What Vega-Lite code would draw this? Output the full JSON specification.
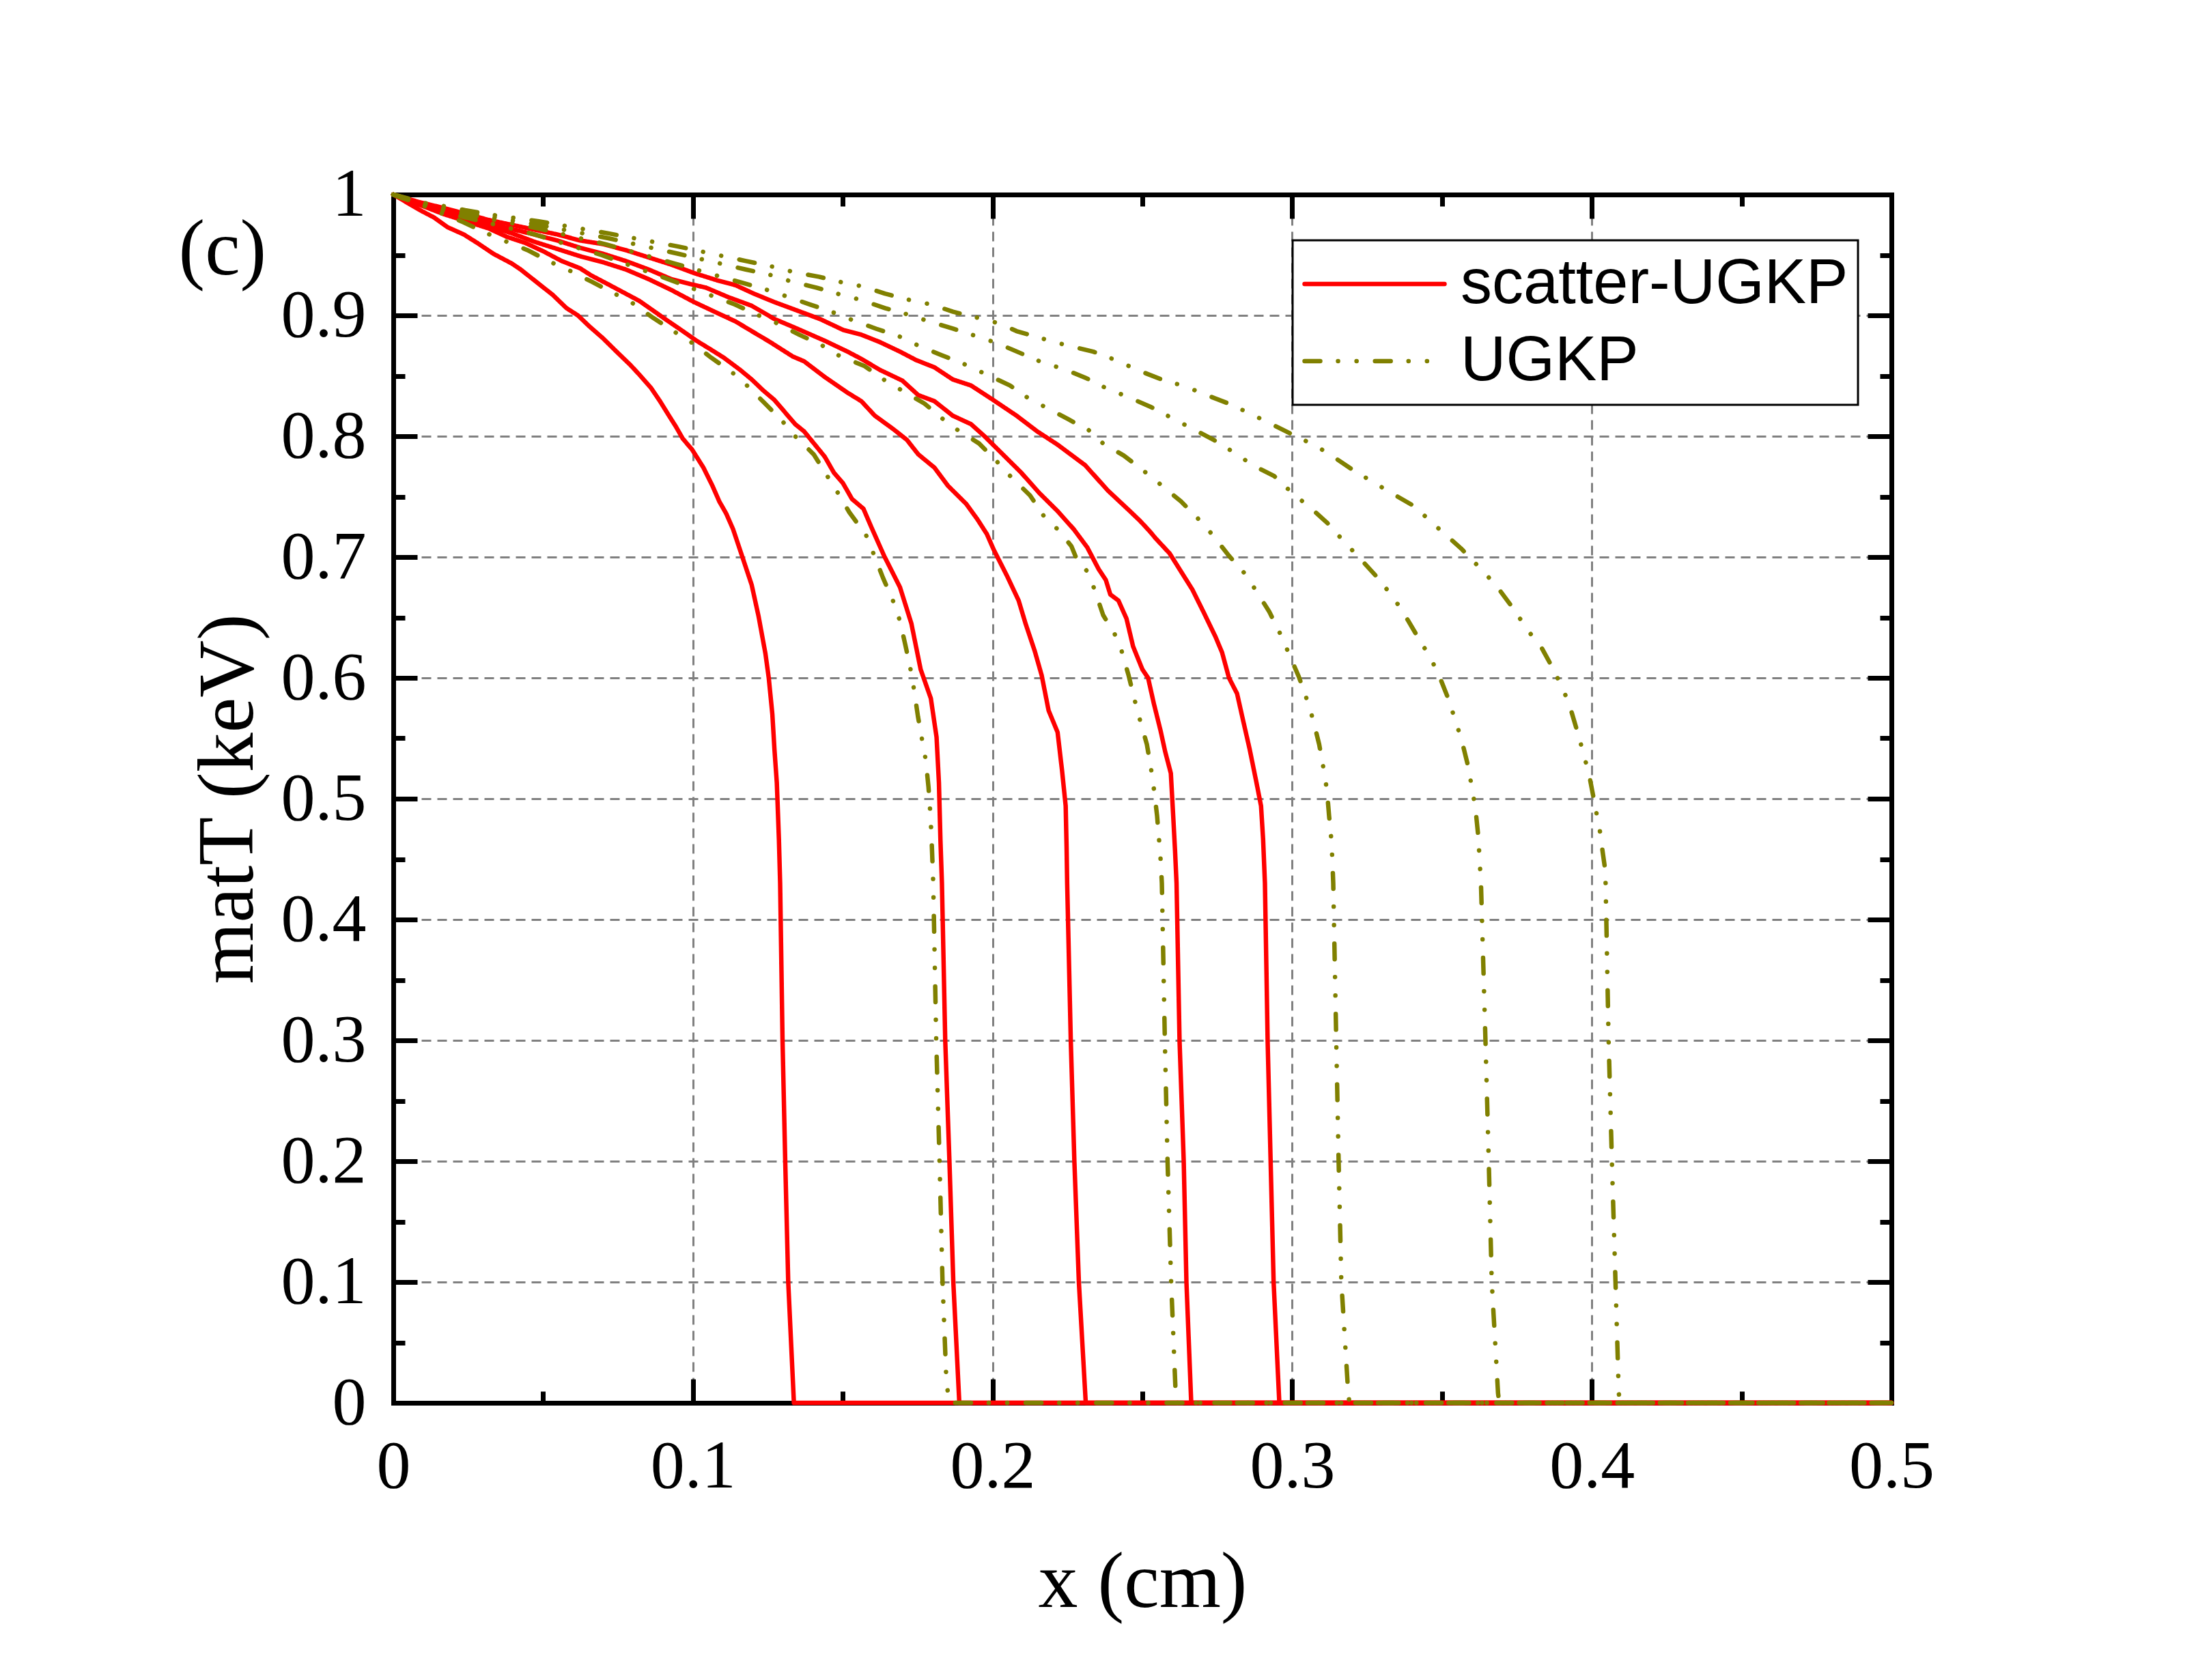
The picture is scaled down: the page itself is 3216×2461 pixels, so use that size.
{
  "$schema": "https://vega.github.io/schema/vega-lite/v6.json",
  "width": 2194,
  "height": 1770,
  "autosize": "none",
  "padding": {"left": 576, "top": 285, "right": 446, "bottom": 406},
  "background": "white",
  "datasets": {
    "curves": [
      {"curve": "S1", "method": "scatter-UGKP", "x": 0, "y": 1},
      {"curve": "S1", "method": "scatter-UGKP", "x": 0.009, "y": 0.987},
      {"curve": "S1", "method": "scatter-UGKP", "x": 0.0136, "y": 0.981},
      {"curve": "S1", "method": "scatter-UGKP", "x": 0.0181, "y": 0.973},
      {"curve": "S1", "method": "scatter-UGKP", "x": 0.0235, "y": 0.967},
      {"curve": "S1", "method": "scatter-UGKP", "x": 0.028, "y": 0.96},
      {"curve": "S1", "method": "scatter-UGKP", "x": 0.0334, "y": 0.951},
      {"curve": "S1", "method": "scatter-UGKP", "x": 0.0395, "y": 0.943},
      {"curve": "S1", "method": "scatter-UGKP", "x": 0.0425, "y": 0.938},
      {"curve": "S1", "method": "scatter-UGKP", "x": 0.0486, "y": 0.926},
      {"curve": "S1", "method": "scatter-UGKP", "x": 0.0532, "y": 0.917},
      {"curve": "S1", "method": "scatter-UGKP", "x": 0.0578, "y": 0.906},
      {"curve": "S1", "method": "scatter-UGKP", "x": 0.0616, "y": 0.9},
      {"curve": "S1", "method": "scatter-UGKP", "x": 0.0654, "y": 0.891},
      {"curve": "S1", "method": "scatter-UGKP", "x": 0.07, "y": 0.881},
      {"curve": "S1", "method": "scatter-UGKP", "x": 0.0745, "y": 0.87},
      {"curve": "S1", "method": "scatter-UGKP", "x": 0.0791, "y": 0.859},
      {"curve": "S1", "method": "scatter-UGKP", "x": 0.0821, "y": 0.851},
      {"curve": "S1", "method": "scatter-UGKP", "x": 0.086, "y": 0.84},
      {"curve": "S1", "method": "scatter-UGKP", "x": 0.089, "y": 0.829},
      {"curve": "S1", "method": "scatter-UGKP", "x": 0.092, "y": 0.817},
      {"curve": "S1", "method": "scatter-UGKP", "x": 0.0943, "y": 0.808},
      {"curve": "S1", "method": "scatter-UGKP", "x": 0.0966, "y": 0.798},
      {"curve": "S1", "method": "scatter-UGKP", "x": 0.0997, "y": 0.789},
      {"curve": "S1", "method": "scatter-UGKP", "x": 0.1035, "y": 0.774},
      {"curve": "S1", "method": "scatter-UGKP", "x": 0.1065, "y": 0.759},
      {"curve": "S1", "method": "scatter-UGKP", "x": 0.1088, "y": 0.746},
      {"curve": "S1", "method": "scatter-UGKP", "x": 0.1111, "y": 0.736},
      {"curve": "S1", "method": "scatter-UGKP", "x": 0.1134, "y": 0.723},
      {"curve": "S1", "method": "scatter-UGKP", "x": 0.1157, "y": 0.706},
      {"curve": "S1", "method": "scatter-UGKP", "x": 0.1196, "y": 0.677},
      {"curve": "S1", "method": "scatter-UGKP", "x": 0.1219, "y": 0.651},
      {"curve": "S1", "method": "scatter-UGKP", "x": 0.1242, "y": 0.62},
      {"curve": "S1", "method": "scatter-UGKP", "x": 0.1253, "y": 0.6},
      {"curve": "S1", "method": "scatter-UGKP", "x": 0.1265, "y": 0.57},
      {"curve": "S1", "method": "scatter-UGKP", "x": 0.1272, "y": 0.541},
      {"curve": "S1", "method": "scatter-UGKP", "x": 0.128, "y": 0.513},
      {"curve": "S1", "method": "scatter-UGKP", "x": 0.1287, "y": 0.466},
      {"curve": "S1", "method": "scatter-UGKP", "x": 0.1291, "y": 0.43},
      {"curve": "S1", "method": "scatter-UGKP", "x": 0.1299, "y": 0.3},
      {"curve": "S1", "method": "scatter-UGKP", "x": 0.1308, "y": 0.2},
      {"curve": "S1", "method": "scatter-UGKP", "x": 0.1318, "y": 0.1},
      {"curve": "S1", "method": "scatter-UGKP", "x": 0.1337, "y": 0},
      {"curve": "S1", "method": "scatter-UGKP", "x": 0.5, "y": 0},

      {"curve": "S2", "method": "scatter-UGKP", "x": 0, "y": 1},
      {"curve": "S2", "method": "scatter-UGKP", "x": 0.0083, "y": 0.992},
      {"curve": "S2", "method": "scatter-UGKP", "x": 0.0166, "y": 0.984},
      {"curve": "S2", "method": "scatter-UGKP", "x": 0.0242, "y": 0.978},
      {"curve": "S2", "method": "scatter-UGKP", "x": 0.0318, "y": 0.972},
      {"curve": "S2", "method": "scatter-UGKP", "x": 0.0379, "y": 0.965},
      {"curve": "S2", "method": "scatter-UGKP", "x": 0.044, "y": 0.96},
      {"curve": "S2", "method": "scatter-UGKP", "x": 0.0501, "y": 0.953},
      {"curve": "S2", "method": "scatter-UGKP", "x": 0.0562, "y": 0.945},
      {"curve": "S2", "method": "scatter-UGKP", "x": 0.0623, "y": 0.939},
      {"curve": "S2", "method": "scatter-UGKP", "x": 0.0661, "y": 0.933},
      {"curve": "S2", "method": "scatter-UGKP", "x": 0.0715, "y": 0.926},
      {"curve": "S2", "method": "scatter-UGKP", "x": 0.0768, "y": 0.919},
      {"curve": "S2", "method": "scatter-UGKP", "x": 0.0821, "y": 0.912},
      {"curve": "S2", "method": "scatter-UGKP", "x": 0.0867, "y": 0.904},
      {"curve": "S2", "method": "scatter-UGKP", "x": 0.0913, "y": 0.896},
      {"curve": "S2", "method": "scatter-UGKP", "x": 0.0966, "y": 0.887},
      {"curve": "S2", "method": "scatter-UGKP", "x": 0.1012, "y": 0.879},
      {"curve": "S2", "method": "scatter-UGKP", "x": 0.1058, "y": 0.872},
      {"curve": "S2", "method": "scatter-UGKP", "x": 0.1103, "y": 0.865},
      {"curve": "S2", "method": "scatter-UGKP", "x": 0.1157, "y": 0.855},
      {"curve": "S2", "method": "scatter-UGKP", "x": 0.1196, "y": 0.847},
      {"curve": "S2", "method": "scatter-UGKP", "x": 0.1234, "y": 0.838},
      {"curve": "S2", "method": "scatter-UGKP", "x": 0.1272, "y": 0.83},
      {"curve": "S2", "method": "scatter-UGKP", "x": 0.131, "y": 0.819},
      {"curve": "S2", "method": "scatter-UGKP", "x": 0.1341, "y": 0.81},
      {"curve": "S2", "method": "scatter-UGKP", "x": 0.1371, "y": 0.804},
      {"curve": "S2", "method": "scatter-UGKP", "x": 0.1394, "y": 0.797},
      {"curve": "S2", "method": "scatter-UGKP", "x": 0.144, "y": 0.783},
      {"curve": "S2", "method": "scatter-UGKP", "x": 0.147, "y": 0.77},
      {"curve": "S2", "method": "scatter-UGKP", "x": 0.1501, "y": 0.761},
      {"curve": "S2", "method": "scatter-UGKP", "x": 0.1531, "y": 0.748},
      {"curve": "S2", "method": "scatter-UGKP", "x": 0.1569, "y": 0.74},
      {"curve": "S2", "method": "scatter-UGKP", "x": 0.1595, "y": 0.725},
      {"curve": "S2", "method": "scatter-UGKP", "x": 0.1638, "y": 0.701},
      {"curve": "S2", "method": "scatter-UGKP", "x": 0.1691, "y": 0.675},
      {"curve": "S2", "method": "scatter-UGKP", "x": 0.1729, "y": 0.645},
      {"curve": "S2", "method": "scatter-UGKP", "x": 0.176, "y": 0.607},
      {"curve": "S2", "method": "scatter-UGKP", "x": 0.1794, "y": 0.583},
      {"curve": "S2", "method": "scatter-UGKP", "x": 0.1813, "y": 0.551},
      {"curve": "S2", "method": "scatter-UGKP", "x": 0.1821, "y": 0.513},
      {"curve": "S2", "method": "scatter-UGKP", "x": 0.1826, "y": 0.466},
      {"curve": "S2", "method": "scatter-UGKP", "x": 0.1831, "y": 0.43},
      {"curve": "S2", "method": "scatter-UGKP", "x": 0.1842, "y": 0.3},
      {"curve": "S2", "method": "scatter-UGKP", "x": 0.1856, "y": 0.2},
      {"curve": "S2", "method": "scatter-UGKP", "x": 0.1869, "y": 0.1},
      {"curve": "S2", "method": "scatter-UGKP", "x": 0.1889, "y": 0},
      {"curve": "S2", "method": "scatter-UGKP", "x": 0.5, "y": 0},

      {"curve": "S3", "method": "scatter-UGKP", "x": 0, "y": 1},
      {"curve": "S3", "method": "scatter-UGKP", "x": 0.0083, "y": 0.992},
      {"curve": "S3", "method": "scatter-UGKP", "x": 0.0166, "y": 0.985},
      {"curve": "S3", "method": "scatter-UGKP", "x": 0.0318, "y": 0.974},
      {"curve": "S3", "method": "scatter-UGKP", "x": 0.0395, "y": 0.968},
      {"curve": "S3", "method": "scatter-UGKP", "x": 0.047, "y": 0.961},
      {"curve": "S3", "method": "scatter-UGKP", "x": 0.0547, "y": 0.955},
      {"curve": "S3", "method": "scatter-UGKP", "x": 0.0623, "y": 0.949},
      {"curve": "S3", "method": "scatter-UGKP", "x": 0.07, "y": 0.944},
      {"curve": "S3", "method": "scatter-UGKP", "x": 0.0776, "y": 0.938},
      {"curve": "S3", "method": "scatter-UGKP", "x": 0.0852, "y": 0.93},
      {"curve": "S3", "method": "scatter-UGKP", "x": 0.0928, "y": 0.921},
      {"curve": "S3", "method": "scatter-UGKP", "x": 0.1004, "y": 0.911},
      {"curve": "S3", "method": "scatter-UGKP", "x": 0.1081, "y": 0.902},
      {"curve": "S3", "method": "scatter-UGKP", "x": 0.1142, "y": 0.895},
      {"curve": "S3", "method": "scatter-UGKP", "x": 0.1196, "y": 0.887},
      {"curve": "S3", "method": "scatter-UGKP", "x": 0.1257, "y": 0.878},
      {"curve": "S3", "method": "scatter-UGKP", "x": 0.1333, "y": 0.866},
      {"curve": "S3", "method": "scatter-UGKP", "x": 0.1371, "y": 0.862},
      {"curve": "S3", "method": "scatter-UGKP", "x": 0.144, "y": 0.849},
      {"curve": "S3", "method": "scatter-UGKP", "x": 0.1516, "y": 0.836},
      {"curve": "S3", "method": "scatter-UGKP", "x": 0.1562, "y": 0.829},
      {"curve": "S3", "method": "scatter-UGKP", "x": 0.1607, "y": 0.817},
      {"curve": "S3", "method": "scatter-UGKP", "x": 0.1668, "y": 0.806},
      {"curve": "S3", "method": "scatter-UGKP", "x": 0.1714, "y": 0.797},
      {"curve": "S3", "method": "scatter-UGKP", "x": 0.1752, "y": 0.785},
      {"curve": "S3", "method": "scatter-UGKP", "x": 0.1806, "y": 0.774},
      {"curve": "S3", "method": "scatter-UGKP", "x": 0.1851, "y": 0.759},
      {"curve": "S3", "method": "scatter-UGKP", "x": 0.1912, "y": 0.744},
      {"curve": "S3", "method": "scatter-UGKP", "x": 0.195, "y": 0.731},
      {"curve": "S3", "method": "scatter-UGKP", "x": 0.1981, "y": 0.719},
      {"curve": "S3", "method": "scatter-UGKP", "x": 0.2004, "y": 0.706},
      {"curve": "S3", "method": "scatter-UGKP", "x": 0.2049, "y": 0.684},
      {"curve": "S3", "method": "scatter-UGKP", "x": 0.2087, "y": 0.664},
      {"curve": "S3", "method": "scatter-UGKP", "x": 0.211, "y": 0.645},
      {"curve": "S3", "method": "scatter-UGKP", "x": 0.2141, "y": 0.622},
      {"curve": "S3", "method": "scatter-UGKP", "x": 0.2164, "y": 0.602},
      {"curve": "S3", "method": "scatter-UGKP", "x": 0.2187, "y": 0.573},
      {"curve": "S3", "method": "scatter-UGKP", "x": 0.2217, "y": 0.555},
      {"curve": "S3", "method": "scatter-UGKP", "x": 0.2232, "y": 0.523},
      {"curve": "S3", "method": "scatter-UGKP", "x": 0.2244, "y": 0.494},
      {"curve": "S3", "method": "scatter-UGKP", "x": 0.2247, "y": 0.46},
      {"curve": "S3", "method": "scatter-UGKP", "x": 0.2249, "y": 0.43},
      {"curve": "S3", "method": "scatter-UGKP", "x": 0.2261, "y": 0.3},
      {"curve": "S3", "method": "scatter-UGKP", "x": 0.2273, "y": 0.2},
      {"curve": "S3", "method": "scatter-UGKP", "x": 0.2288, "y": 0.1},
      {"curve": "S3", "method": "scatter-UGKP", "x": 0.2311, "y": 0},
      {"curve": "S3", "method": "scatter-UGKP", "x": 0.5, "y": 0},

      {"curve": "S4", "method": "scatter-UGKP", "x": 0, "y": 1},
      {"curve": "S4", "method": "scatter-UGKP", "x": 0.0083, "y": 0.993},
      {"curve": "S4", "method": "scatter-UGKP", "x": 0.0166, "y": 0.987},
      {"curve": "S4", "method": "scatter-UGKP", "x": 0.0318, "y": 0.976},
      {"curve": "S4", "method": "scatter-UGKP", "x": 0.047, "y": 0.967},
      {"curve": "S4", "method": "scatter-UGKP", "x": 0.0547, "y": 0.962},
      {"curve": "S4", "method": "scatter-UGKP", "x": 0.0623, "y": 0.956},
      {"curve": "S4", "method": "scatter-UGKP", "x": 0.07, "y": 0.951},
      {"curve": "S4", "method": "scatter-UGKP", "x": 0.0776, "y": 0.945},
      {"curve": "S4", "method": "scatter-UGKP", "x": 0.0852, "y": 0.938},
      {"curve": "S4", "method": "scatter-UGKP", "x": 0.0928, "y": 0.93},
      {"curve": "S4", "method": "scatter-UGKP", "x": 0.099, "y": 0.926},
      {"curve": "S4", "method": "scatter-UGKP", "x": 0.1043, "y": 0.923},
      {"curve": "S4", "method": "scatter-UGKP", "x": 0.1119, "y": 0.915},
      {"curve": "S4", "method": "scatter-UGKP", "x": 0.1196, "y": 0.908},
      {"curve": "S4", "method": "scatter-UGKP", "x": 0.1272, "y": 0.897},
      {"curve": "S4", "method": "scatter-UGKP", "x": 0.1348, "y": 0.889},
      {"curve": "S4", "method": "scatter-UGKP", "x": 0.144, "y": 0.879},
      {"curve": "S4", "method": "scatter-UGKP", "x": 0.1516, "y": 0.87},
      {"curve": "S4", "method": "scatter-UGKP", "x": 0.1562, "y": 0.864},
      {"curve": "S4", "method": "scatter-UGKP", "x": 0.1623, "y": 0.855},
      {"curve": "S4", "method": "scatter-UGKP", "x": 0.1699, "y": 0.846},
      {"curve": "S4", "method": "scatter-UGKP", "x": 0.1752, "y": 0.834},
      {"curve": "S4", "method": "scatter-UGKP", "x": 0.1806, "y": 0.829},
      {"curve": "S4", "method": "scatter-UGKP", "x": 0.1867, "y": 0.817},
      {"curve": "S4", "method": "scatter-UGKP", "x": 0.1928, "y": 0.81},
      {"curve": "S4", "method": "scatter-UGKP", "x": 0.1973, "y": 0.8},
      {"curve": "S4", "method": "scatter-UGKP", "x": 0.2034, "y": 0.785},
      {"curve": "S4", "method": "scatter-UGKP", "x": 0.2095, "y": 0.77},
      {"curve": "S4", "method": "scatter-UGKP", "x": 0.2156, "y": 0.753},
      {"curve": "S4", "method": "scatter-UGKP", "x": 0.2217, "y": 0.738},
      {"curve": "S4", "method": "scatter-UGKP", "x": 0.2271, "y": 0.723},
      {"curve": "S4", "method": "scatter-UGKP", "x": 0.2316, "y": 0.708},
      {"curve": "S4", "method": "scatter-UGKP", "x": 0.2354, "y": 0.69},
      {"curve": "S4", "method": "scatter-UGKP", "x": 0.2378, "y": 0.681},
      {"curve": "S4", "method": "scatter-UGKP", "x": 0.2393, "y": 0.669},
      {"curve": "S4", "method": "scatter-UGKP", "x": 0.242, "y": 0.664},
      {"curve": "S4", "method": "scatter-UGKP", "x": 0.2447, "y": 0.649},
      {"curve": "S4", "method": "scatter-UGKP", "x": 0.2469, "y": 0.626},
      {"curve": "S4", "method": "scatter-UGKP", "x": 0.25, "y": 0.607},
      {"curve": "S4", "method": "scatter-UGKP", "x": 0.2519, "y": 0.6},
      {"curve": "S4", "method": "scatter-UGKP", "x": 0.2538, "y": 0.579},
      {"curve": "S4", "method": "scatter-UGKP", "x": 0.2561, "y": 0.556},
      {"curve": "S4", "method": "scatter-UGKP", "x": 0.2576, "y": 0.539},
      {"curve": "S4", "method": "scatter-UGKP", "x": 0.2595, "y": 0.521},
      {"curve": "S4", "method": "scatter-UGKP", "x": 0.2603, "y": 0.485},
      {"curve": "S4", "method": "scatter-UGKP", "x": 0.2609, "y": 0.457},
      {"curve": "S4", "method": "scatter-UGKP", "x": 0.2614, "y": 0.43},
      {"curve": "S4", "method": "scatter-UGKP", "x": 0.2624, "y": 0.3},
      {"curve": "S4", "method": "scatter-UGKP", "x": 0.2638, "y": 0.2},
      {"curve": "S4", "method": "scatter-UGKP", "x": 0.2647, "y": 0.1},
      {"curve": "S4", "method": "scatter-UGKP", "x": 0.2663, "y": 0},
      {"curve": "S4", "method": "scatter-UGKP", "x": 0.5, "y": 0},

      {"curve": "S5", "method": "scatter-UGKP", "x": 0, "y": 1},
      {"curve": "S5", "method": "scatter-UGKP", "x": 0.0083, "y": 0.994},
      {"curve": "S5", "method": "scatter-UGKP", "x": 0.0166, "y": 0.989},
      {"curve": "S5", "method": "scatter-UGKP", "x": 0.0318, "y": 0.979},
      {"curve": "S5", "method": "scatter-UGKP", "x": 0.047, "y": 0.971},
      {"curve": "S5", "method": "scatter-UGKP", "x": 0.0547, "y": 0.967},
      {"curve": "S5", "method": "scatter-UGKP", "x": 0.0623, "y": 0.962},
      {"curve": "S5", "method": "scatter-UGKP", "x": 0.07, "y": 0.959},
      {"curve": "S5", "method": "scatter-UGKP", "x": 0.0776, "y": 0.954},
      {"curve": "S5", "method": "scatter-UGKP", "x": 0.0852, "y": 0.948},
      {"curve": "S5", "method": "scatter-UGKP", "x": 0.0928, "y": 0.942},
      {"curve": "S5", "method": "scatter-UGKP", "x": 0.1004, "y": 0.935},
      {"curve": "S5", "method": "scatter-UGKP", "x": 0.1081, "y": 0.929},
      {"curve": "S5", "method": "scatter-UGKP", "x": 0.1142, "y": 0.925},
      {"curve": "S5", "method": "scatter-UGKP", "x": 0.1203, "y": 0.918},
      {"curve": "S5", "method": "scatter-UGKP", "x": 0.1272, "y": 0.911},
      {"curve": "S5", "method": "scatter-UGKP", "x": 0.1348, "y": 0.904},
      {"curve": "S5", "method": "scatter-UGKP", "x": 0.1424, "y": 0.897},
      {"curve": "S5", "method": "scatter-UGKP", "x": 0.1501, "y": 0.888},
      {"curve": "S5", "method": "scatter-UGKP", "x": 0.1562, "y": 0.884},
      {"curve": "S5", "method": "scatter-UGKP", "x": 0.1623, "y": 0.878},
      {"curve": "S5", "method": "scatter-UGKP", "x": 0.1691, "y": 0.87},
      {"curve": "S5", "method": "scatter-UGKP", "x": 0.1745, "y": 0.863},
      {"curve": "S5", "method": "scatter-UGKP", "x": 0.1806, "y": 0.857},
      {"curve": "S5", "method": "scatter-UGKP", "x": 0.1867, "y": 0.847},
      {"curve": "S5", "method": "scatter-UGKP", "x": 0.1928, "y": 0.842},
      {"curve": "S5", "method": "scatter-UGKP", "x": 0.1996, "y": 0.831},
      {"curve": "S5", "method": "scatter-UGKP", "x": 0.208, "y": 0.817},
      {"curve": "S5", "method": "scatter-UGKP", "x": 0.2149, "y": 0.804},
      {"curve": "S5", "method": "scatter-UGKP", "x": 0.2217, "y": 0.793},
      {"curve": "S5", "method": "scatter-UGKP", "x": 0.2309, "y": 0.776},
      {"curve": "S5", "method": "scatter-UGKP", "x": 0.2385, "y": 0.755},
      {"curve": "S5", "method": "scatter-UGKP", "x": 0.2454, "y": 0.739},
      {"curve": "S5", "method": "scatter-UGKP", "x": 0.2492, "y": 0.73},
      {"curve": "S5", "method": "scatter-UGKP", "x": 0.2522, "y": 0.722},
      {"curve": "S5", "method": "scatter-UGKP", "x": 0.2546, "y": 0.715},
      {"curve": "S5", "method": "scatter-UGKP", "x": 0.2591, "y": 0.703},
      {"curve": "S5", "method": "scatter-UGKP", "x": 0.2629, "y": 0.688},
      {"curve": "S5", "method": "scatter-UGKP", "x": 0.2667, "y": 0.673},
      {"curve": "S5", "method": "scatter-UGKP", "x": 0.2705, "y": 0.654},
      {"curve": "S5", "method": "scatter-UGKP", "x": 0.2744, "y": 0.634},
      {"curve": "S5", "method": "scatter-UGKP", "x": 0.2766, "y": 0.621},
      {"curve": "S5", "method": "scatter-UGKP", "x": 0.2789, "y": 0.6},
      {"curve": "S5", "method": "scatter-UGKP", "x": 0.2816, "y": 0.587},
      {"curve": "S5", "method": "scatter-UGKP", "x": 0.2835, "y": 0.566},
      {"curve": "S5", "method": "scatter-UGKP", "x": 0.2858, "y": 0.541},
      {"curve": "S5", "method": "scatter-UGKP", "x": 0.2881, "y": 0.513},
      {"curve": "S5", "method": "scatter-UGKP", "x": 0.2896, "y": 0.494},
      {"curve": "S5", "method": "scatter-UGKP", "x": 0.2903, "y": 0.466},
      {"curve": "S5", "method": "scatter-UGKP", "x": 0.2909, "y": 0.43},
      {"curve": "S5", "method": "scatter-UGKP", "x": 0.2918, "y": 0.3},
      {"curve": "S5", "method": "scatter-UGKP", "x": 0.2928, "y": 0.2},
      {"curve": "S5", "method": "scatter-UGKP", "x": 0.2938, "y": 0.1},
      {"curve": "S5", "method": "scatter-UGKP", "x": 0.2957, "y": 0},
      {"curve": "S5", "method": "scatter-UGKP", "x": 0.5, "y": 0},

      {"curve": "U1", "method": "UGKP", "x": 0, "y": 1},
      {"curve": "U1", "method": "UGKP", "x": 0.0094, "y": 0.9915},
      {"curve": "U1", "method": "UGKP", "x": 0.0155, "y": 0.985},
      {"curve": "U1", "method": "UGKP", "x": 0.0235, "y": 0.977},
      {"curve": "U1", "method": "UGKP", "x": 0.0311, "y": 0.968},
      {"curve": "U1", "method": "UGKP", "x": 0.0368, "y": 0.962},
      {"curve": "U1", "method": "UGKP", "x": 0.0448, "y": 0.954},
      {"curve": "U1", "method": "UGKP", "x": 0.0526, "y": 0.944},
      {"curve": "U1", "method": "UGKP", "x": 0.0581, "y": 0.938},
      {"curve": "U1", "method": "UGKP", "x": 0.0661, "y": 0.928},
      {"curve": "U1", "method": "UGKP", "x": 0.0739, "y": 0.918},
      {"curve": "U1", "method": "UGKP", "x": 0.0799, "y": 0.91},
      {"curve": "U1", "method": "UGKP", "x": 0.0867, "y": 0.898},
      {"curve": "U1", "method": "UGKP", "x": 0.0941, "y": 0.886},
      {"curve": "U1", "method": "UGKP", "x": 0.0993, "y": 0.878},
      {"curve": "U1", "method": "UGKP", "x": 0.1061, "y": 0.865},
      {"curve": "U1", "method": "UGKP", "x": 0.113, "y": 0.853},
      {"curve": "U1", "method": "UGKP", "x": 0.1176, "y": 0.843},
      {"curve": "U1", "method": "UGKP", "x": 0.1237, "y": 0.828},
      {"curve": "U1", "method": "UGKP", "x": 0.13, "y": 0.812},
      {"curve": "U1", "method": "UGKP", "x": 0.1341, "y": 0.8},
      {"curve": "U1", "method": "UGKP", "x": 0.1403, "y": 0.785},
      {"curve": "U1", "method": "UGKP", "x": 0.1451, "y": 0.766},
      {"curve": "U1", "method": "UGKP", "x": 0.1484, "y": 0.753},
      {"curve": "U1", "method": "UGKP", "x": 0.1522, "y": 0.737},
      {"curve": "U1", "method": "UGKP", "x": 0.1578, "y": 0.718},
      {"curve": "U1", "method": "UGKP", "x": 0.1604, "y": 0.702},
      {"curve": "U1", "method": "UGKP", "x": 0.1634, "y": 0.683},
      {"curve": "U1", "method": "UGKP", "x": 0.1669, "y": 0.663},
      {"curve": "U1", "method": "UGKP", "x": 0.1691, "y": 0.647},
      {"curve": "U1", "method": "UGKP", "x": 0.171, "y": 0.626},
      {"curve": "U1", "method": "UGKP", "x": 0.1728, "y": 0.605},
      {"curve": "U1", "method": "UGKP", "x": 0.1738, "y": 0.59},
      {"curve": "U1", "method": "UGKP", "x": 0.1751, "y": 0.568},
      {"curve": "U1", "method": "UGKP", "x": 0.1766, "y": 0.547},
      {"curve": "U1", "method": "UGKP", "x": 0.1777, "y": 0.532},
      {"curve": "U1", "method": "UGKP", "x": 0.1786, "y": 0.51},
      {"curve": "U1", "method": "UGKP", "x": 0.1792, "y": 0.489},
      {"curve": "U1", "method": "UGKP", "x": 0.1796, "y": 0.47},
      {"curve": "U1", "method": "UGKP", "x": 0.1799, "y": 0.45},
      {"curve": "U1", "method": "UGKP", "x": 0.1802, "y": 0.43},
      {"curve": "U1", "method": "UGKP", "x": 0.1812, "y": 0.3},
      {"curve": "U1", "method": "UGKP", "x": 0.1823, "y": 0.2},
      {"curve": "U1", "method": "UGKP", "x": 0.1833, "y": 0.1},
      {"curve": "U1", "method": "UGKP", "x": 0.1846, "y": 0.017},
      {"curve": "U1", "method": "UGKP", "x": 0.1856, "y": 0},
      {"curve": "U1", "method": "UGKP", "x": 0.5, "y": 0},

      {"curve": "U2", "method": "UGKP", "x": 0, "y": 1},
      {"curve": "U2", "method": "UGKP", "x": 0.012, "y": 0.99},
      {"curve": "U2", "method": "UGKP", "x": 0.024, "y": 0.981},
      {"curve": "U2", "method": "UGKP", "x": 0.036, "y": 0.974},
      {"curve": "U2", "method": "UGKP", "x": 0.0471, "y": 0.967},
      {"curve": "U2", "method": "UGKP", "x": 0.0694, "y": 0.95},
      {"curve": "U2", "method": "UGKP", "x": 0.0917, "y": 0.93},
      {"curve": "U2", "method": "UGKP", "x": 0.114, "y": 0.909},
      {"curve": "U2", "method": "UGKP", "x": 0.1219, "y": 0.9},
      {"curve": "U2", "method": "UGKP", "x": 0.1276, "y": 0.894},
      {"curve": "U2", "method": "UGKP", "x": 0.1355, "y": 0.884},
      {"curve": "U2", "method": "UGKP", "x": 0.1432, "y": 0.875},
      {"curve": "U2", "method": "UGKP", "x": 0.1485, "y": 0.867},
      {"curve": "U2", "method": "UGKP", "x": 0.1573, "y": 0.858},
      {"curve": "U2", "method": "UGKP", "x": 0.1636, "y": 0.847},
      {"curve": "U2", "method": "UGKP", "x": 0.169, "y": 0.839},
      {"curve": "U2", "method": "UGKP", "x": 0.1773, "y": 0.827},
      {"curve": "U2", "method": "UGKP", "x": 0.183, "y": 0.815},
      {"curve": "U2", "method": "UGKP", "x": 0.1884, "y": 0.805},
      {"curve": "U2", "method": "UGKP", "x": 0.1955, "y": 0.794},
      {"curve": "U2", "method": "UGKP", "x": 0.2011, "y": 0.78},
      {"curve": "U2", "method": "UGKP", "x": 0.2055, "y": 0.768},
      {"curve": "U2", "method": "UGKP", "x": 0.2125, "y": 0.751},
      {"curve": "U2", "method": "UGKP", "x": 0.2171, "y": 0.734},
      {"curve": "U2", "method": "UGKP", "x": 0.2217, "y": 0.723},
      {"curve": "U2", "method": "UGKP", "x": 0.2263, "y": 0.709},
      {"curve": "U2", "method": "UGKP", "x": 0.2278, "y": 0.7},
      {"curve": "U2", "method": "UGKP", "x": 0.2316, "y": 0.688},
      {"curve": "U2", "method": "UGKP", "x": 0.2339, "y": 0.674},
      {"curve": "U2", "method": "UGKP", "x": 0.2369, "y": 0.652},
      {"curve": "U2", "method": "UGKP", "x": 0.2408, "y": 0.636},
      {"curve": "U2", "method": "UGKP", "x": 0.2431, "y": 0.622},
      {"curve": "U2", "method": "UGKP", "x": 0.2454, "y": 0.602},
      {"curve": "U2", "method": "UGKP", "x": 0.2476, "y": 0.58},
      {"curve": "U2", "method": "UGKP", "x": 0.2492, "y": 0.565},
      {"curve": "U2", "method": "UGKP", "x": 0.2515, "y": 0.545},
      {"curve": "U2", "method": "UGKP", "x": 0.253, "y": 0.523},
      {"curve": "U2", "method": "UGKP", "x": 0.2539, "y": 0.507},
      {"curve": "U2", "method": "UGKP", "x": 0.2549, "y": 0.486},
      {"curve": "U2", "method": "UGKP", "x": 0.2556, "y": 0.465},
      {"curve": "U2", "method": "UGKP", "x": 0.2561, "y": 0.449},
      {"curve": "U2", "method": "UGKP", "x": 0.2565, "y": 0.43},
      {"curve": "U2", "method": "UGKP", "x": 0.2575, "y": 0.3},
      {"curve": "U2", "method": "UGKP", "x": 0.2584, "y": 0.2},
      {"curve": "U2", "method": "UGKP", "x": 0.2596, "y": 0.1},
      {"curve": "U2", "method": "UGKP", "x": 0.2611, "y": 0.008},
      {"curve": "U2", "method": "UGKP", "x": 0.2615, "y": 0},
      {"curve": "U2", "method": "UGKP", "x": 0.5, "y": 0},

      {"curve": "U3", "method": "UGKP", "x": 0, "y": 1},
      {"curve": "U3", "method": "UGKP", "x": 0.012, "y": 0.991},
      {"curve": "U3", "method": "UGKP", "x": 0.024, "y": 0.984},
      {"curve": "U3", "method": "UGKP", "x": 0.036, "y": 0.978},
      {"curve": "U3", "method": "UGKP", "x": 0.0482, "y": 0.972},
      {"curve": "U3", "method": "UGKP", "x": 0.0707, "y": 0.959},
      {"curve": "U3", "method": "UGKP", "x": 0.0937, "y": 0.943},
      {"curve": "U3", "method": "UGKP", "x": 0.1164, "y": 0.927},
      {"curve": "U3", "method": "UGKP", "x": 0.1248, "y": 0.921},
      {"curve": "U3", "method": "UGKP", "x": 0.1309, "y": 0.916},
      {"curve": "U3", "method": "UGKP", "x": 0.1391, "y": 0.909},
      {"curve": "U3", "method": "UGKP", "x": 0.1474, "y": 0.902},
      {"curve": "U3", "method": "UGKP", "x": 0.1533, "y": 0.896},
      {"curve": "U3", "method": "UGKP", "x": 0.1611, "y": 0.889},
      {"curve": "U3", "method": "UGKP", "x": 0.1695, "y": 0.882},
      {"curve": "U3", "method": "UGKP", "x": 0.1752, "y": 0.875},
      {"curve": "U3", "method": "UGKP", "x": 0.1831, "y": 0.867},
      {"curve": "U3", "method": "UGKP", "x": 0.1912, "y": 0.859},
      {"curve": "U3", "method": "UGKP", "x": 0.1972, "y": 0.852},
      {"curve": "U3", "method": "UGKP", "x": 0.2058, "y": 0.842},
      {"curve": "U3", "method": "UGKP", "x": 0.2122, "y": 0.831},
      {"curve": "U3", "method": "UGKP", "x": 0.2177, "y": 0.824},
      {"curve": "U3", "method": "UGKP", "x": 0.2253, "y": 0.814},
      {"curve": "U3", "method": "UGKP", "x": 0.2321, "y": 0.805},
      {"curve": "U3", "method": "UGKP", "x": 0.2369, "y": 0.794},
      {"curve": "U3", "method": "UGKP", "x": 0.2438, "y": 0.784},
      {"curve": "U3", "method": "UGKP", "x": 0.2511, "y": 0.77},
      {"curve": "U3", "method": "UGKP", "x": 0.2561, "y": 0.76},
      {"curve": "U3", "method": "UGKP", "x": 0.2629, "y": 0.746},
      {"curve": "U3", "method": "UGKP", "x": 0.2685, "y": 0.732},
      {"curve": "U3", "method": "UGKP", "x": 0.2732, "y": 0.719},
      {"curve": "U3", "method": "UGKP", "x": 0.2789, "y": 0.701},
      {"curve": "U3", "method": "UGKP", "x": 0.2843, "y": 0.686},
      {"curve": "U3", "method": "UGKP", "x": 0.2877, "y": 0.673},
      {"curve": "U3", "method": "UGKP", "x": 0.2923, "y": 0.655},
      {"curve": "U3", "method": "UGKP", "x": 0.2963, "y": 0.635},
      {"curve": "U3", "method": "UGKP", "x": 0.2989, "y": 0.62},
      {"curve": "U3", "method": "UGKP", "x": 0.3022, "y": 0.601},
      {"curve": "U3", "method": "UGKP", "x": 0.3052, "y": 0.58},
      {"curve": "U3", "method": "UGKP", "x": 0.307, "y": 0.565},
      {"curve": "U3", "method": "UGKP", "x": 0.309, "y": 0.545},
      {"curve": "U3", "method": "UGKP", "x": 0.3106, "y": 0.523},
      {"curve": "U3", "method": "UGKP", "x": 0.3116, "y": 0.507},
      {"curve": "U3", "method": "UGKP", "x": 0.3123, "y": 0.486},
      {"curve": "U3", "method": "UGKP", "x": 0.3131, "y": 0.465},
      {"curve": "U3", "method": "UGKP", "x": 0.3134, "y": 0.449},
      {"curve": "U3", "method": "UGKP", "x": 0.3137, "y": 0.43},
      {"curve": "U3", "method": "UGKP", "x": 0.3147, "y": 0.3},
      {"curve": "U3", "method": "UGKP", "x": 0.3155, "y": 0.2},
      {"curve": "U3", "method": "UGKP", "x": 0.3164, "y": 0.1},
      {"curve": "U3", "method": "UGKP", "x": 0.3187, "y": 0.008},
      {"curve": "U3", "method": "UGKP", "x": 0.3191, "y": 0},
      {"curve": "U3", "method": "UGKP", "x": 0.5, "y": 0},

      {"curve": "U4", "method": "UGKP", "x": 0, "y": 1},
      {"curve": "U4", "method": "UGKP", "x": 0.012, "y": 0.992},
      {"curve": "U4", "method": "UGKP", "x": 0.024, "y": 0.985},
      {"curve": "U4", "method": "UGKP", "x": 0.036, "y": 0.98},
      {"curve": "U4", "method": "UGKP", "x": 0.0482, "y": 0.975},
      {"curve": "U4", "method": "UGKP", "x": 0.0715, "y": 0.964},
      {"curve": "U4", "method": "UGKP", "x": 0.0951, "y": 0.951},
      {"curve": "U4", "method": "UGKP", "x": 0.1176, "y": 0.938},
      {"curve": "U4", "method": "UGKP", "x": 0.1267, "y": 0.933},
      {"curve": "U4", "method": "UGKP", "x": 0.1328, "y": 0.928},
      {"curve": "U4", "method": "UGKP", "x": 0.1412, "y": 0.923},
      {"curve": "U4", "method": "UGKP", "x": 0.1495, "y": 0.917},
      {"curve": "U4", "method": "UGKP", "x": 0.1558, "y": 0.913},
      {"curve": "U4", "method": "UGKP", "x": 0.1641, "y": 0.906},
      {"curve": "U4", "method": "UGKP", "x": 0.1727, "y": 0.9},
      {"curve": "U4", "method": "UGKP", "x": 0.1788, "y": 0.895},
      {"curve": "U4", "method": "UGKP", "x": 0.1868, "y": 0.889},
      {"curve": "U4", "method": "UGKP", "x": 0.1956, "y": 0.882},
      {"curve": "U4", "method": "UGKP", "x": 0.2015, "y": 0.877},
      {"curve": "U4", "method": "UGKP", "x": 0.2091, "y": 0.869},
      {"curve": "U4", "method": "UGKP", "x": 0.2176, "y": 0.86},
      {"curve": "U4", "method": "UGKP", "x": 0.2234, "y": 0.856},
      {"curve": "U4", "method": "UGKP", "x": 0.2313, "y": 0.848},
      {"curve": "U4", "method": "UGKP", "x": 0.2385, "y": 0.839},
      {"curve": "U4", "method": "UGKP", "x": 0.2447, "y": 0.833},
      {"curve": "U4", "method": "UGKP", "x": 0.253, "y": 0.824},
      {"curve": "U4", "method": "UGKP", "x": 0.2607, "y": 0.814},
      {"curve": "U4", "method": "UGKP", "x": 0.2661, "y": 0.807},
      {"curve": "U4", "method": "UGKP", "x": 0.2738, "y": 0.797},
      {"curve": "U4", "method": "UGKP", "x": 0.2816, "y": 0.785},
      {"curve": "U4", "method": "UGKP", "x": 0.2868, "y": 0.776},
      {"curve": "U4", "method": "UGKP", "x": 0.294, "y": 0.767},
      {"curve": "U4", "method": "UGKP", "x": 0.3009, "y": 0.751},
      {"curve": "U4", "method": "UGKP", "x": 0.3056, "y": 0.742},
      {"curve": "U4", "method": "UGKP", "x": 0.3118, "y": 0.728},
      {"curve": "U4", "method": "UGKP", "x": 0.3176, "y": 0.712},
      {"curve": "U4", "method": "UGKP", "x": 0.3222, "y": 0.7},
      {"curve": "U4", "method": "UGKP", "x": 0.3281, "y": 0.684},
      {"curve": "U4", "method": "UGKP", "x": 0.3336, "y": 0.667},
      {"curve": "U4", "method": "UGKP", "x": 0.3371, "y": 0.654},
      {"curve": "U4", "method": "UGKP", "x": 0.3414, "y": 0.636},
      {"curve": "U4", "method": "UGKP", "x": 0.3458, "y": 0.618},
      {"curve": "U4", "method": "UGKP", "x": 0.3487, "y": 0.604},
      {"curve": "U4", "method": "UGKP", "x": 0.3519, "y": 0.584},
      {"curve": "U4", "method": "UGKP", "x": 0.3547, "y": 0.563},
      {"curve": "U4", "method": "UGKP", "x": 0.3566, "y": 0.548},
      {"curve": "U4", "method": "UGKP", "x": 0.3587, "y": 0.527},
      {"curve": "U4", "method": "UGKP", "x": 0.3602, "y": 0.506},
      {"curve": "U4", "method": "UGKP", "x": 0.3612, "y": 0.491},
      {"curve": "U4", "method": "UGKP", "x": 0.3621, "y": 0.469},
      {"curve": "U4", "method": "UGKP", "x": 0.3626, "y": 0.447},
      {"curve": "U4", "method": "UGKP", "x": 0.363, "y": 0.43},
      {"curve": "U4", "method": "UGKP", "x": 0.3645, "y": 0.3},
      {"curve": "U4", "method": "UGKP", "x": 0.3656, "y": 0.2},
      {"curve": "U4", "method": "UGKP", "x": 0.3666, "y": 0.1},
      {"curve": "U4", "method": "UGKP", "x": 0.3687, "y": 0.008},
      {"curve": "U4", "method": "UGKP", "x": 0.3691, "y": 0},
      {"curve": "U4", "method": "UGKP", "x": 0.5, "y": 0},

      {"curve": "U5", "method": "UGKP", "x": 0, "y": 1},
      {"curve": "U5", "method": "UGKP", "x": 0.0029, "y": 0.997},
      {"curve": "U5", "method": "UGKP", "x": 0.0098, "y": 0.993},
      {"curve": "U5", "method": "UGKP", "x": 0.0158, "y": 0.991},
      {"curve": "U5", "method": "UGKP", "x": 0.024, "y": 0.987},
      {"curve": "U5", "method": "UGKP", "x": 0.0334, "y": 0.983},
      {"curve": "U5", "method": "UGKP", "x": 0.0395, "y": 0.981},
      {"curve": "U5", "method": "UGKP", "x": 0.0482, "y": 0.978},
      {"curve": "U5", "method": "UGKP", "x": 0.0715, "y": 0.968},
      {"curve": "U5", "method": "UGKP", "x": 0.0951, "y": 0.957},
      {"curve": "U5", "method": "UGKP", "x": 0.1177, "y": 0.945},
      {"curve": "U5", "method": "UGKP", "x": 0.1272, "y": 0.94},
      {"curve": "U5", "method": "UGKP", "x": 0.1333, "y": 0.936},
      {"curve": "U5", "method": "UGKP", "x": 0.142, "y": 0.932},
      {"curve": "U5", "method": "UGKP", "x": 0.1503, "y": 0.927},
      {"curve": "U5", "method": "UGKP", "x": 0.1566, "y": 0.924},
      {"curve": "U5", "method": "UGKP", "x": 0.1641, "y": 0.918},
      {"curve": "U5", "method": "UGKP", "x": 0.1735, "y": 0.912},
      {"curve": "U5", "method": "UGKP", "x": 0.1796, "y": 0.909},
      {"curve": "U5", "method": "UGKP", "x": 0.1868, "y": 0.903},
      {"curve": "U5", "method": "UGKP", "x": 0.1967, "y": 0.897},
      {"curve": "U5", "method": "UGKP", "x": 0.2026, "y": 0.893},
      {"curve": "U5", "method": "UGKP", "x": 0.208, "y": 0.887},
      {"curve": "U5", "method": "UGKP", "x": 0.2192, "y": 0.879},
      {"curve": "U5", "method": "UGKP", "x": 0.2251, "y": 0.875},
      {"curve": "U5", "method": "UGKP", "x": 0.2336, "y": 0.87},
      {"curve": "U5", "method": "UGKP", "x": 0.2421, "y": 0.862},
      {"curve": "U5", "method": "UGKP", "x": 0.2481, "y": 0.855},
      {"curve": "U5", "method": "UGKP", "x": 0.2564, "y": 0.847},
      {"curve": "U5", "method": "UGKP", "x": 0.2646, "y": 0.841},
      {"curve": "U5", "method": "UGKP", "x": 0.2704, "y": 0.835},
      {"curve": "U5", "method": "UGKP", "x": 0.2788, "y": 0.827},
      {"curve": "U5", "method": "UGKP", "x": 0.2866, "y": 0.818},
      {"curve": "U5", "method": "UGKP", "x": 0.2923, "y": 0.811},
      {"curve": "U5", "method": "UGKP", "x": 0.3004, "y": 0.801},
      {"curve": "U5", "method": "UGKP", "x": 0.3079, "y": 0.792},
      {"curve": "U5", "method": "UGKP", "x": 0.3131, "y": 0.784},
      {"curve": "U5", "method": "UGKP", "x": 0.3203, "y": 0.772},
      {"curve": "U5", "method": "UGKP", "x": 0.3277, "y": 0.761},
      {"curve": "U5", "method": "UGKP", "x": 0.3331, "y": 0.753},
      {"curve": "U5", "method": "UGKP", "x": 0.3408, "y": 0.742},
      {"curve": "U5", "method": "UGKP", "x": 0.3473, "y": 0.727},
      {"curve": "U5", "method": "UGKP", "x": 0.3519, "y": 0.717},
      {"curve": "U5", "method": "UGKP", "x": 0.3564, "y": 0.707},
      {"curve": "U5", "method": "UGKP", "x": 0.3642, "y": 0.687},
      {"curve": "U5", "method": "UGKP", "x": 0.3685, "y": 0.675},
      {"curve": "U5", "method": "UGKP", "x": 0.3739, "y": 0.657},
      {"curve": "U5", "method": "UGKP", "x": 0.3787, "y": 0.639},
      {"curve": "U5", "method": "UGKP", "x": 0.383, "y": 0.626},
      {"curve": "U5", "method": "UGKP", "x": 0.3872, "y": 0.607},
      {"curve": "U5", "method": "UGKP", "x": 0.391, "y": 0.587},
      {"curve": "U5", "method": "UGKP", "x": 0.3932, "y": 0.572},
      {"curve": "U5", "method": "UGKP", "x": 0.3956, "y": 0.552},
      {"curve": "U5", "method": "UGKP", "x": 0.3979, "y": 0.531},
      {"curve": "U5", "method": "UGKP", "x": 0.3994, "y": 0.516},
      {"curve": "U5", "method": "UGKP", "x": 0.4011, "y": 0.494},
      {"curve": "U5", "method": "UGKP", "x": 0.4027, "y": 0.473},
      {"curve": "U5", "method": "UGKP", "x": 0.4035, "y": 0.458},
      {"curve": "U5", "method": "UGKP", "x": 0.4043, "y": 0.444},
      {"curve": "U5", "method": "UGKP", "x": 0.4046, "y": 0.43},
      {"curve": "U5", "method": "UGKP", "x": 0.4056, "y": 0.3},
      {"curve": "U5", "method": "UGKP", "x": 0.4067, "y": 0.2},
      {"curve": "U5", "method": "UGKP", "x": 0.4079, "y": 0.1},
      {"curve": "U5", "method": "UGKP", "x": 0.409, "y": 0.008},
      {"curve": "U5", "method": "UGKP", "x": 0.4094, "y": 0},
      {"curve": "U5", "method": "UGKP", "x": 0.5, "y": 0}
    ]
  },
  "data": {"name": "curves"},
  "layer": [
    {
      "mark": {"type": "point", "opacity": 0},
      "encoding": {
        "x": {
          "field": "x", "type": "quantitative",
          "scale": {"domain": [0, 0.5], "nice": false, "zero": false},
          "axis": {
            "orient": "top", "values": [0.1, 0.2, 0.3, 0.4], "labels": false,
            "tickSize": -35, "tickWidth": 7, "domainWidth": 7, "domainCap": "square",
            "grid": true, "gridColor": "#808080", "gridDash": [14, 9], "gridWidth": 3,
            "title": null
          }
        },
        "y": {
          "field": "y", "type": "quantitative",
          "scale": {"domain": [0, 1], "nice": false},
          "axis": {
            "orient": "right",
            "values": [0.1, 0.2, 0.3, 0.4, 0.5, 0.6, 0.7, 0.8, 0.9], "labels": false,
            "tickSize": -35, "tickWidth": 7, "domainWidth": 7, "domainCap": "square",
            "grid": true, "gridColor": "#808080", "gridDash": [14, 9], "gridWidth": 3,
            "title": null
          }
        }
      }
    },
    {
      "mark": {"type": "point", "opacity": 0},
      "encoding": {
        "x": {
          "field": "x", "type": "quantitative",
          "axis": {
            "orient": "bottom", "values": [0.05, 0.15, 0.25, 0.35, 0.45],
            "labels": false, "domain": false, "grid": false,
            "tickSize": -17, "tickWidth": 7, "title": null
          }
        },
        "y": {
          "field": "y", "type": "quantitative",
          "axis": {
            "orient": "left",
            "values": [0.05, 0.15, 0.25, 0.35, 0.45, 0.55, 0.65, 0.75, 0.85, 0.95],
            "labels": false, "domain": false, "grid": false,
            "tickSize": -17, "tickWidth": 7,
            "title": "(c)", "titleAngle": 0, "titleX": -315, "titleY": 116,
            "titleAlign": "left", "titleBaseline": "alphabetic",
            "titleFont": "Liberation Serif", "titleFontSize": 116, "titleFontWeight": "normal"
          }
        }
      }
    },
    {
      "mark": {"type": "point", "opacity": 0},
      "encoding": {
        "x": {
          "field": "x", "type": "quantitative",
          "axis": {
            "orient": "top", "values": [0.05, 0.15, 0.25, 0.35, 0.45],
            "labels": false, "domain": false, "grid": false,
            "tickSize": -17, "tickWidth": 7, "title": null
          }
        },
        "y": {
          "field": "y", "type": "quantitative",
          "axis": {
            "orient": "right",
            "values": [0.05, 0.15, 0.25, 0.35, 0.45, 0.55, 0.65, 0.75, 0.85, 0.95],
            "labels": false, "domain": false, "grid": false,
            "tickSize": -17, "tickWidth": 7, "title": null
          }
        }
      }
    },
    {
      "mark": {"type": "line", "strokeWidth": 6.5, "strokeCap": "round", "strokeJoin": "round"},
      "encoding": {
        "x": {
          "field": "x", "type": "quantitative",
          "axis": {
            "orient": "bottom", "values": [0, 0.1, 0.2, 0.3, 0.4, 0.5], "format": "~g",
            "labelFont": "Liberation Serif", "labelFontSize": 100, "labelPadding": 79,
            "labelFlush": false, "labelOverlap": false,
            "tickSize": -35, "tickWidth": 7, "domainWidth": 7, "domainCap": "square",
            "grid": false,
            "title": "x (cm)", "titleFont": "Liberation Serif", "titleFontSize": 116,
            "titleFontWeight": "normal", "titleY": 298, "titleBaseline": "alphabetic"
          }
        },
        "y": {
          "field": "y", "type": "quantitative",
          "axis": {
            "orient": "left",
            "values": [0, 0.1, 0.2, 0.3, 0.4, 0.5, 0.6, 0.7, 0.8, 0.9, 1], "format": "~g",
            "labelFont": "Liberation Serif", "labelFontSize": 100, "labelPadding": 75,
            "labelOverlap": false,
            "tickSize": -35, "tickWidth": 7, "domainWidth": 7, "domainCap": "square",
            "grid": false,
            "title": "matT (keV)", "titleFont": "Liberation Serif", "titleFontSize": 116,
            "titleFontWeight": "normal", "titleAngle": 270, "titleX": -207,
            "titleBaseline": "alphabetic"
          }
        },
        "color": {
          "field": "method", "type": "nominal",
          "scale": {"domain": ["scatter-UGKP", "UGKP"], "range": ["#ff0000", "#808000"]},
          "legend": {
            "orient": "none", "legendX": 1317, "legendY": 67, "title": null,
            "symbolType": "stroke", "symbolSize": 42025, "symbolStrokeWidth": 6.5,
            "clipHeight": 100, "rowPadding": 13, "padding": 14, "labelOffset": 20,
            "labelFont": "Liberation Sans", "labelFontSize": 92, "labelColor": "black",
            "labelLimit": 2000, "strokeColor": "black", "fillColor": "white",
            "encode": {
              "legend": {"update": {"strokeWidth": {"value": 3}}},
              "symbols": {"update": {"strokeCap": {"value": "round"}}}
            }
          }
        },
        "strokeDash": {
          "field": "method", "type": "nominal",
          "scale": {"domain": ["scatter-UGKP", "UGKP"], "range": [[1, 0], [23, 26, 0.1, 27, 0.1, 27]]},
          "legend": {
            "orient": "none", "legendX": 1317, "legendY": 67, "title": null,
            "symbolType": "stroke", "symbolSize": 42025, "symbolStrokeWidth": 6.5,
            "clipHeight": 100, "rowPadding": 13, "padding": 14, "labelOffset": 20,
            "labelFont": "Liberation Sans", "labelFontSize": 92, "labelColor": "black",
            "labelLimit": 2000, "strokeColor": "black", "fillColor": "white",
            "encode": {
              "legend": {"update": {"strokeWidth": {"value": 3}}},
              "symbols": {"update": {"strokeCap": {"value": "round"}}}
            }
          }
        },
        "detail": {"field": "curve", "type": "nominal"}
      }
    }
  ],
  "resolve": {"axis": {"x": "independent", "y": "independent"}},
  "config": {
    "view": {"stroke": null},
    "axis": {"domainColor": "black", "tickColor": "black", "labelColor": "black", "titleColor": "black"}
  }
}
